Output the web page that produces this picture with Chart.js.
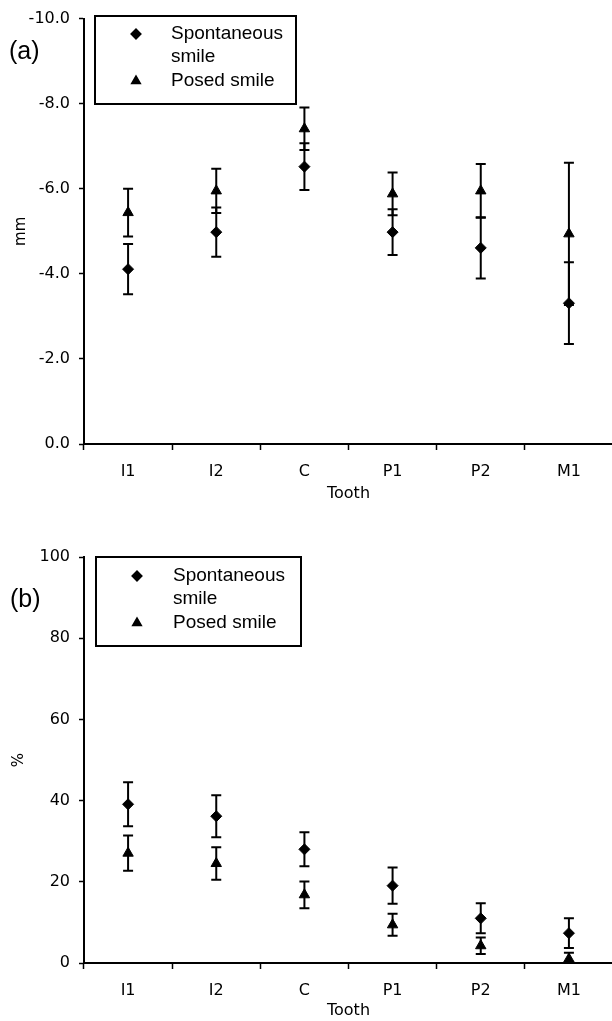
<!DOCTYPE html>
<html>
<head>
<meta charset="utf-8">
<script src="https://cdn.jsdelivr.net/npm/chart.js@4.4.1/dist/chart.umd.min.js"></script>
<style>
  html, body { margin: 0; padding: 0; background: #fff; overflow: hidden; width: 612px; height: 1021px; }
  canvas { display: block; }
</style>
</head>
<body>
<canvas id="chartA" width="620" height="510"></canvas>
<canvas id="chartB" width="620" height="511"></canvas>
<script>
var teeth = ['I1', 'I2', 'C', 'P1', 'P2', 'M1'];

// panel (a): mm, mean and SD
var spontMm = [-4.11, -4.98, -6.52, -4.98, -4.61, -3.31];
var spontMmSd = [0.59, 0.58, 0.55, 0.54, 0.72, 0.96];
var posedMm = [-5.44, -5.95, -7.41, -5.88, -5.95, -4.94];
var posedMmSd = [0.56, 0.52, 0.5, 0.5, 0.63, 1.67];
var mmTicks = [-10, -8, -6, -4, -2, 0];

// panel (b): %, mean and SD
var spontPct = [39.1, 36.15, 28.0, 19.05, 11.0, 7.35];
var spontPctSd = [5.4, 5.15, 4.2, 4.45, 3.7, 3.65];
var posedPct = [27.05, 24.5, 16.8, 9.4, 4.25, 1.0];
var posedPctSd = [4.35, 4.0, 3.3, 2.7, 2.05, 1.5];
var pctTicks = [0, 20, 40, 60, 80, 100];

var legendLines = [['Spontaneous', 'smile'], ['Posed smile']];

var tickFont = { family: 'DejaVu Sans', size: 16 };

// vertical error bars, drawn through the chart scales
var errorBars = {
  id: 'errorBars',
  afterDatasetsDraw: function (chart) {
    var ctx = chart.ctx, xs = chart.scales.x, ys = chart.scales.y, a = chart.chartArea;
    ctx.save();
    ctx.beginPath();
    ctx.rect(a.left, a.top - 2, a.right - a.left, a.bottom - a.top + 2);
    ctx.clip();
    ctx.strokeStyle = '#000';
    ctx.lineWidth = 2;
    chart.data.datasets.forEach(function (ds) {
      ds.data.forEach(function (v, i) {
        var px = xs.getPixelForValue(i);
        var hi = ys.getPixelForValue(v + ds.sd[i]);
        var lo = ys.getPixelForValue(v - ds.sd[i]);
        ctx.beginPath();
        ctx.moveTo(px, hi); ctx.lineTo(px, lo);
        ctx.moveTo(px - 5, hi); ctx.lineTo(px + 5, hi);
        ctx.moveTo(px - 5, lo); ctx.lineTo(px + 5, lo);
        ctx.stroke();
      });
    });
    ctx.restore();
  }
};

// boxed legend inside the plot and the panel letter
var boxLegend = {
  id: 'boxLegend',
  afterDraw: function (chart, args, opts) {
    var ctx = chart.ctx, b = opts.box;
    ctx.save();
    ctx.fillStyle = '#fff';
    ctx.fillRect(b[0], b[1], b[2] - b[0], b[3] - b[1]);
    ctx.strokeStyle = '#000';
    ctx.lineWidth = 2;
    ctx.strokeRect(b[0], b[1], b[2] - b[0], b[3] - b[1]);
    ctx.fillStyle = '#000';
    ctx.font = '19px "Liberation Sans", Arial, sans-serif';
    ctx.textBaseline = 'middle';
    ctx.textAlign = 'left';
    var row = 0;
    chart.data.datasets.forEach(function (ds, d) {
      var y0 = b[1] + opts.rows[row];
      Chart.helpers.drawPoint(ctx, {
        pointStyle: ds.pointStyle, radius: 4.5, rotation: 0, borderWidth: 1
      }, opts.markerX, y0);
      ctx.fillStyle = '#000';
      legendLines[d].forEach(function (t) {
        ctx.fillText(t, opts.textX, b[1] + opts.rows[row]);
        row++;
      });
    });
    ctx.font = '25px "Liberation Sans", Arial, sans-serif';
    ctx.fillText(opts.panel, opts.panelX, opts.panelY);
    ctx.restore();
  }
};

function makeChart(id, spont, spontSd, posed, posedSd, yOpts, layoutTop, xHeight, xTitlePad, yTitle, yTitlePad, legendOpts) {
  return new Chart(document.getElementById(id), {
    type: 'line',
    data: {
      labels: teeth,
      datasets: [{
        label: 'Spontaneous smile',
        data: spont,
        sd: spontSd,
        showLine: false,
        pointStyle: 'rectRot',
        pointRadius: 5.5,
        pointBackgroundColor: '#000',
        pointBorderColor: '#000',
        pointBorderWidth: 1
      }, {
        label: 'Posed smile',
        data: posed,
        sd: posedSd,
        showLine: false,
        pointStyle: 'triangle',
        pointRadius: 6,
        pointBackgroundColor: '#000',
        pointBorderColor: '#000',
        pointBorderWidth: 1
      }]
    },
    options: {
      responsive: false,
      animation: false,
      devicePixelRatio: 1,
      layout: { padding: { top: layoutTop, right: 4, left: 0, bottom: 0 } },
      plugins: {
        legend: { display: false },
        tooltip: { enabled: false },
        boxLegend: legendOpts
      },
      scales: {
        x: {
          offset: true,
          grid: { offset: true, drawOnChartArea: false, drawTicks: true, tickLength: 6, tickColor: '#000', tickWidth: 1.5 },
          border: { color: '#000', width: 2 },
          ticks: { color: '#000', font: tickFont, padding: 12, maxRotation: 0 },
          title: { display: true, text: 'Tooth', color: '#000', font: { family: 'DejaVu Sans', size: 16 }, padding: { top: 0, bottom: xTitlePad } },
          afterFit: function (s) { s.height = xHeight; }
        },
        y: Object.assign({
          grid: { drawOnChartArea: false, drawTicks: true, tickLength: 5, tickColor: '#000', tickWidth: 1.5 },
          border: { color: '#000', width: 2 },
          title: { display: true, text: yTitle, color: '#000', font: { family: 'DejaVu Sans', size: 15 }, padding: { top: yTitlePad, bottom: 0 } },
          afterFit: function (s) { s.width = 84; }
        }, yOpts)
      }
    },
    plugins: [errorBars, boxLegend]
  });
}

makeChart('chartA', spontMm, spontMmSd, posedMm, posedMmSd, {
  min: -10, max: 0, reverse: true,
  afterBuildTicks: function (s) { s.ticks = mmTicks.map(function (v) { return { value: v }; }); },
  ticks: { color: '#000', font: { family: 'DejaVu Sans', size: 16 }, padding: 9,
    callback: function (v) { return v.toFixed(1); } }
}, 16, 66, 7, 'mm', 12, {
  box: [95, 16, 296, 104], rows: [18, 41, 65], markerX: 136, textX: 171,
  panel: '(a)', panelX: 9, panelY: 52
});

makeChart('chartB', spontPct, spontPctSd, posedPct, posedPctSd, {
  min: 0, max: 100,
  afterBuildTicks: function (s) { s.ticks = pctTicks.map(function (v) { return { value: v }; }); },
  ticks: { color: '#000', font: { family: 'DejaVu Sans', size: 16 }, padding: 9,
    callback: function (v) { return String(v); } }
}, 47, 58, 1, '%', 10, {
  box: [96, 47, 301, 136], rows: [19, 42, 66], markerX: 137, textX: 173,
  panel: '(b)', panelX: 10, panelY: 90
});
</script>
</body>
</html>
